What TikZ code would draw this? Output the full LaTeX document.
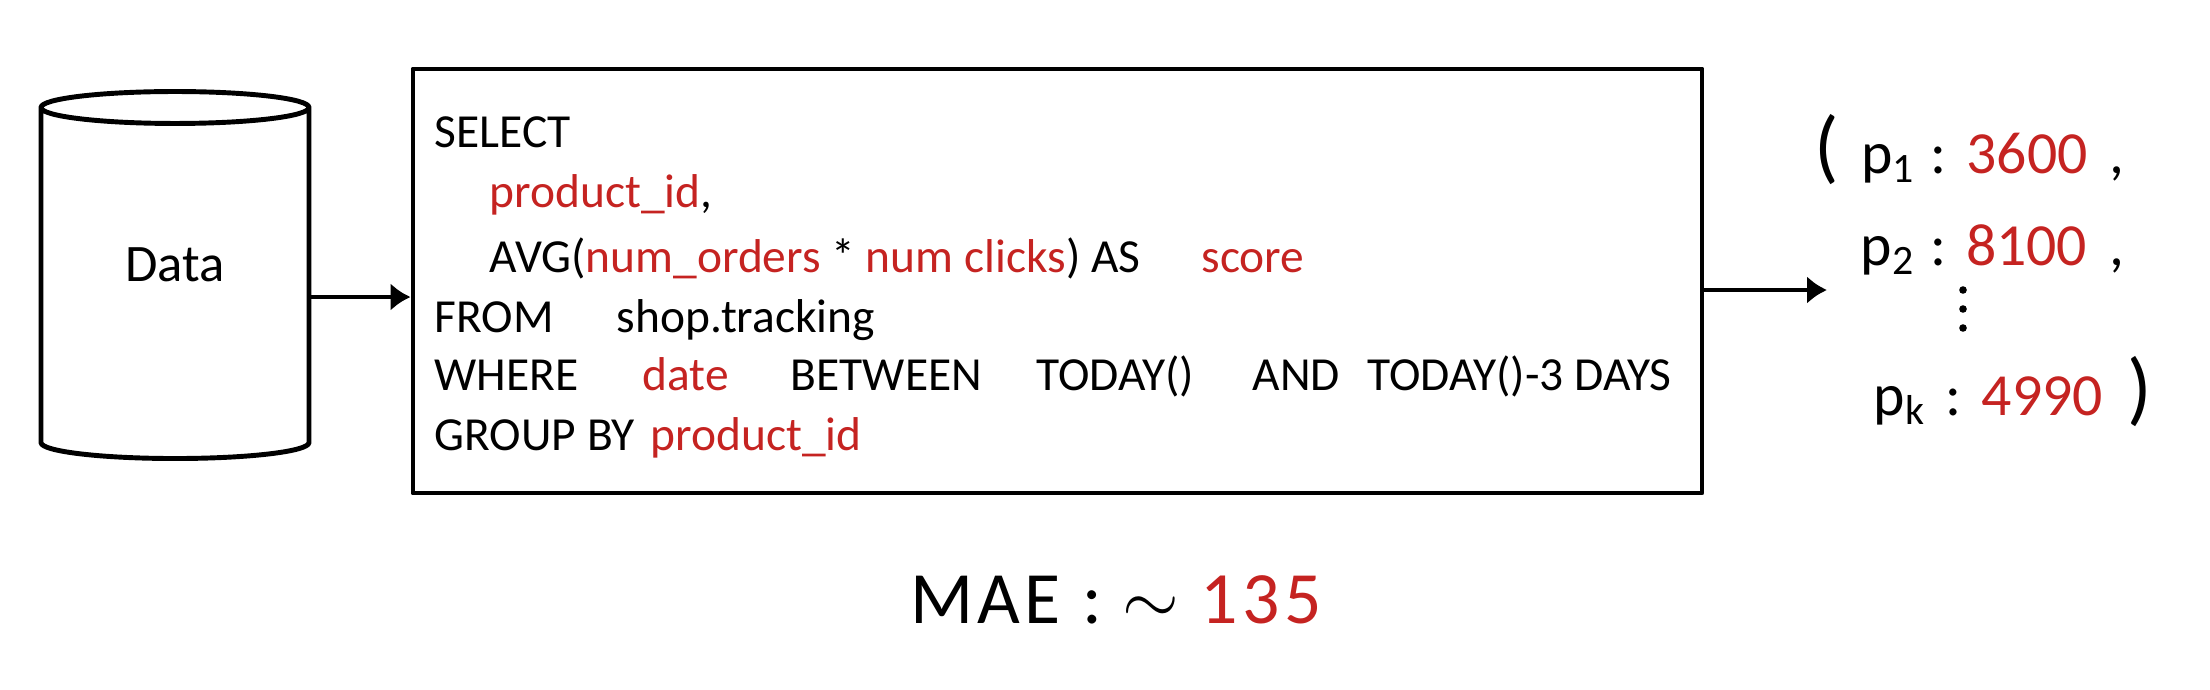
\documentclass[tikz,border=0pt]{standalone}
\usepackage{fontspec}
\setmainfont{Carlito}
\definecolor{inkred}{RGB}{197,35,33}
\usetikzlibrary{shapes.geometric, arrows.meta, positioning}

\begin{document}
\begin{tikzpicture}[
  ink/.style={line width=1.4pt, line cap=round, line join=round},
  flow/.style={ink, -{Latex[length=2mm, width=2.8mm]}},
  sql/.style={anchor=base west, inner sep=0pt, font=\fontsize{13.5}{16}\selectfont},
  hot/.style={text=inkred},
  tup/.style={anchor=base west, inner sep=0pt, font=\fontsize{17}{20}\selectfont}
]
  \useasboundingbox (0,0) rectangle (22.1,6.89);

  \node[ink, draw, cylinder, shape border rotate=90, aspect=0.26, minimum width=2.68cm, minimum height=3.67cm, text depth=0.46cm, font=\fontsize{15}{18}\selectfont] (data) at (1.75,4.015) {Data};
  \node[ink, draw, minimum width=12.89cm, minimum height=4.24cm] (query) at (10.575,4.08) {};
  \draw[flow] (data.east |- 0,3.92) -- (query.west |- 0,3.92);

  \node[sql] (select) at (4.34,5.42) {SELECT};
  \node[sql] (pid) at (4.89,4.82) {\textcolor{inkred}{product\_id},};
  \node[sql] (avg) at (4.89,4.17) {AVG(\textcolor{inkred}{num\_orders} * \textcolor{inkred}{num clicks}) AS};
  \node[sql, hot] (score) at (12.01,4.17) {score};
  \node[sql] (from) at (4.34,3.57) {FROM};
  \node[sql] (table) at (6.16,3.57) {shop.tracking};
  \node[sql] (where) at (4.34,2.99) {WHERE};
  \node[sql, hot] (date) at (6.42,2.99) {date};
  \node[sql] (between) at (7.90,2.99) {BETWEEN};
  \node[sql] (today) at (10.36,2.99) {TODAY()};
  \node[sql] (and) at (12.52,2.99) {AND};
  \node[sql] (lower) at (13.67,2.99) {TODAY()-3 DAYS};
  \node[sql] (group) at (4.34,2.39) {GROUP BY};
  \node[sql, hot] (gid) at (6.50,2.39) {product\_id};

  \coordinate (out) at (18.27,3.99);
  \draw[flow] (query.east |- out) -- (out);

  \node[tup] (p1) at (18.14,5.16) {{\fontsize{23}{23}\selectfont(}\hspace{0.22cm}p\textsubscript{1}\hspace{0.15cm}:\hspace{0.2cm}\textcolor{inkred}{3600}\hspace{0.22cm},};
  \node[tup] (p2) at (18.60,4.24) {p\textsubscript{2}\hspace{0.15cm}:\hspace{0.2cm}\textcolor{inkred}{8100}\hspace{0.22cm},};
  \foreach \k in {0,1,2}
    \fill (19.63,3.99-0.19*\k) circle (0.038);
  \node[tup] (pk) at (18.73,2.74) {p\textsubscript{k}\hspace{0.2cm}:\hspace{0.2cm}\textcolor{inkred}{4990}\hspace{0.25cm}{\fontsize{23}{23}\selectfont)}};

  \node[font=\fontsize{21}{24}\selectfont\addfontfeatures{LetterSpace=6}] (mae) at (11.16,0.89) {MAE : $\sim$ \textcolor{inkred}{135}};
\end{tikzpicture}
\end{document}
